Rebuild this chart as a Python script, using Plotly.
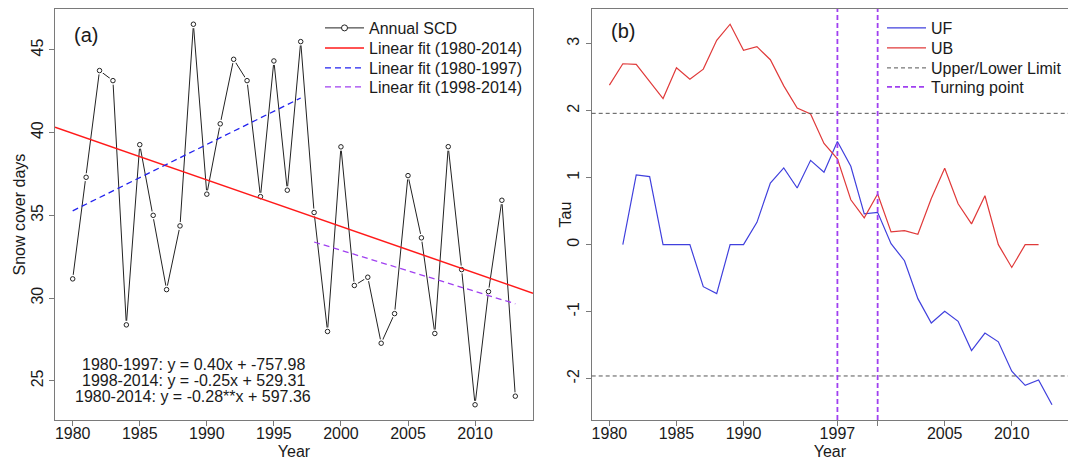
import numpy as np
import plotly.graph_objects as go

# ---------------- data ----------------
years = list(range(1980, 2014))
scd = [31.16, 37.30, 43.75, 43.14, 28.38, 39.27, 35.00, 30.51, 34.36, 46.55,
       36.28, 40.53, 44.43, 43.14, 36.13, 44.33, 36.52, 45.50, 35.17, 27.98,
       39.14, 30.76, 31.26, 27.27, 29.06, 37.40, 33.64, 27.86, 39.15, 31.72,
       23.55, 30.39, 35.91, 24.07]

uf_years = list(range(1981, 2014))
uf = [0.0, 1.04, 1.015, 0.0, 0.0, 0.0, -0.627, -0.731, 0.0, 0.0,
      0.333, 0.92, 1.145, 0.846, 1.258, 1.08, 1.54, 1.17, 0.458, 0.482,
      0.015, -0.24, -0.806, -1.17, -0.995, -1.144, -1.58, -1.32, -1.45, -1.89,
      -2.10, -2.02, -2.39]

ub_years = list(range(1980, 2013))
ub = [2.38, 2.70, 2.69, 2.44, 2.18, 2.64, 2.47, 2.62, 3.05, 3.29,
      2.90, 2.955, 2.76, 2.37, 2.04, 1.95, 1.51, 1.28, 0.67, 0.40,
      0.757, 0.19, 0.21, 0.154, 0.69, 1.14, 0.61, 0.31, 0.73, 0.0,
      -0.34, 0.0, 0.0]

limits = [1.96, -1.96]
turning_points = [1997, 2000]

period_early = (1980, 1997)
period_late = (1998, 2013)

xticks_a = [1980, 1985, 1990, 1995, 2000, 2005, 2010]
yticks_a = [25, 30, 35, 40, 45]
xticks_b = [1980, 1985, 1990, 1997, 2000, 2005, 2010]
xticktext_b = ["1980", "1985", "1990", "1997", "", "2005", "2010"]
yticks_b = [-2, -1, 0, 1, 2, 3]
yticktext_b = ["-2", "-1", "0", "1", "2", "3"]

eq_lines = ["1980-1997: y = 0.40x + -757.98",
            "1998-2014: y = -0.25x + 529.31",
            "1980-2014: y = -0.28**x + 597.36"]

# ---------------- layout helpers ----------------
W, H = 1068, 462
FONT = "Liberation Sans, Arial, sans-serif"
FRAME = "#7a7a7a"
TXT = "#1a1a1a"
FS = 16

def fx(p):
    return p / W

def fy(p):
    return 1 - p / H

def rrange(vals):
    lo, hi = min(vals), max(vals)
    d = 0.04 * (hi - lo)
    return [lo - d, hi + d]

xr_a = rrange(years)
yr_a = rrange(scd)
span = xr_a[1] - xr_a[0]
a_left, a_right = 55, 533
b_left = 591.7
xr_b = [xr_a[0], xr_a[0] + span * (W - b_left) / (a_right - a_left)]
yr_b = rrange(uf + ub)

yrs = np.array(years, dtype=float)
vals = np.array(scd)

def fit(y0, y1):
    m = (yrs >= y0) & (yrs <= y1)
    return np.polyfit(yrs[m], vals[m], 1)

c_full = np.polyfit(yrs, vals, 1)
c_early = fit(*period_early)
c_late = fit(*period_late)

fig = go.Figure()

# ---- panel (a) ----
fig.add_trace(go.Scatter(x=years, y=scd, mode="lines", showlegend=False,
                         line=dict(color="#222222", width=1), hoverinfo="skip",
                         xaxis="x", yaxis="y"))
fig.add_trace(go.Scatter(x=years, y=scd, mode="markers", showlegend=False,
                         marker=dict(symbol="circle", size=8, color="white",
                                     line=dict(width=0)),
                         hoverinfo="skip", xaxis="x", yaxis="y"))
fig.add_trace(go.Scatter(x=years, y=scd, mode="markers", showlegend=False,
                         marker=dict(symbol="circle", size=4.5, color="white",
                                     line=dict(width=1, color="#222222")),
                         xaxis="x", yaxis="y"))
# legend entry for the series
fig.add_trace(go.Scatter(x=[None], y=[None], mode="lines+markers", name="Annual SCD",
                         line=dict(color="#222222", width=1),
                         marker=dict(symbol="circle", size=6, color="white",
                                     line=dict(width=1, color="#222222")),
                         legend="legend", xaxis="x", yaxis="y"))

fx_full = np.array(xr_a)
fig.add_trace(go.Scatter(x=fx_full, y=np.polyval(c_full, fx_full), mode="lines",
                         name="Linear fit (1980-2014)",
                         line=dict(color="#ff1a1a", width=1.5),
                         legend="legend2", xaxis="x", yaxis="y"))
fx_e = np.array(period_early, dtype=float)
fig.add_trace(go.Scatter(x=fx_e, y=np.polyval(c_early, fx_e), mode="lines",
                         name="Linear fit (1980-1997)",
                         line=dict(color="#2222ee", width=1.3, dash="6px,4px"),
                         legend="legend3", xaxis="x", yaxis="y"))
fx_l = np.array(period_late, dtype=float)
fig.add_trace(go.Scatter(x=fx_l, y=np.polyval(c_late, fx_l), mode="lines",
                         name="Linear fit (1998-2014)",
                         line=dict(color="#a040f0", width=1.3, dash="6px,4px"),
                         legend="legend4", xaxis="x", yaxis="y"))

# ---- panel (b) ----
fig.add_trace(go.Scatter(x=uf_years, y=uf, mode="lines", name="UF",
                         line=dict(color="#4040dd", width=1.2),
                         legend="legend5", xaxis="x2", yaxis="y2"))
fig.add_trace(go.Scatter(x=ub_years, y=ub, mode="lines", name="UB",
                         line=dict(color="#e03a3a", width=1.2),
                         legend="legend6", xaxis="x2", yaxis="y2"))

shapes = []
for i, lv in enumerate(limits):
    shapes.append(dict(type="line", xref="x2 domain", yref="y2", x0=0, x1=1,
                       y0=lv, y1=lv, line=dict(color="#555555", width=1, dash="4px,3px"),
                       showlegend=(i == 0), name="Upper/Lower Limit",
                       legend="legend7", layer="above"))
for i, tp in enumerate(turning_points):
    shapes.append(dict(type="line", xref="x2", yref="y2 domain", x0=tp, x1=tp,
                       y0=0, y1=1, line=dict(color="#a040f0", width=1.8, dash="5px,3px"),
                       showlegend=(i == 0), name="Turning point",
                       legend="legend8", layer="above"))

ann = []
for i, t in enumerate(eq_lines):
    ann.append(dict(text=t, xref="paper", yref="paper", x=fx(193), y=fy(364 + 16.3 * i),
                    xanchor="center", yanchor="middle", showarrow=False,
                    font=dict(size=FS, color=TXT, family=FONT)))
ann.append(dict(text="(a)", xref="paper", yref="paper", x=fx(86), y=fy(35),
                xanchor="center", yanchor="middle", showarrow=False,
                font=dict(size=20, color=TXT, family=FONT)))
ann.append(dict(text="(b)", xref="paper", yref="paper", x=fx(623), y=fy(31),
                xanchor="center", yanchor="middle", showarrow=False,
                font=dict(size=20, color=TXT, family=FONT)))
# y-axis titles (rotated, as in the original)
ann.append(dict(text="Snow cover days", xref="paper", yref="paper", x=fx(19), y=fy(214.5),
                xanchor="center", yanchor="middle", showarrow=False, textangle=-90,
                font=dict(size=FS, color=TXT, family=FONT)))
ann.append(dict(text="Tau", xref="paper", yref="paper", x=fx(565), y=fy(214.5),
                xanchor="center", yanchor="middle", showarrow=False, textangle=-90,
                font=dict(size=FS, color=TXT, family=FONT)))

axis_common = dict(showgrid=False, zeroline=False, showline=True, linecolor=FRAME,
                   linewidth=1, ticks="outside", ticklen=5, tickcolor=FRAME, tickwidth=1,
                   automargin=False)

ydom = [fy(420), fy(9)]

def legend_at(x_px, center_px):
    return dict(x=fx(x_px), y=fy(center_px - 18), xanchor="left", yanchor="top",
                bgcolor="rgba(0,0,0,0)", font=dict(size=FS, color=TXT, family=FONT),
                itemwidth=39, itemclick=False, itemdoubleclick=False)

rows = [29, 49, 69, 88]

fig.update_layout(
    width=W, height=H, template="none",
    paper_bgcolor="white", plot_bgcolor="white",
    margin=dict(l=0, r=0, t=0, b=0),
    font=dict(family=FONT, size=FS, color=TXT),
    xaxis=dict(domain=[fx(a_left), fx(a_right)], range=xr_a, tickmode="array",
               tickvals=xticks_a, mirror=True,
               title=dict(text="Year", standoff=4), anchor="y",
               **axis_common),
    yaxis=dict(domain=ydom, range=yr_a, tickmode="array", tickvals=yticks_a,
               tickangle=-90, mirror=True, anchor="x", **axis_common),
    xaxis2=dict(domain=[fx(b_left), 1.0], range=xr_b, tickmode="array",
                tickvals=xticks_b, ticktext=xticktext_b, mirror=True,
                title=dict(text="Year", standoff=4), anchor="y2",
                **axis_common),
    yaxis2=dict(domain=ydom, range=yr_b, tickmode="array", tickvals=yticks_b,
                ticktext=yticktext_b, tickangle=-90, mirror=False,
                anchor="x2", **axis_common),
    legend=legend_at(320, rows[0]),
    legend2=legend_at(320, rows[1]),
    legend3=legend_at(320, rows[2]),
    legend4=legend_at(320, rows[3]),
    legend5=legend_at(882, rows[0]),
    legend6=legend_at(882, rows[1]),
    legend7=legend_at(882, rows[2]),
    legend8=legend_at(882, rows[3]),
    shapes=shapes, annotations=ann, showlegend=True,
)
fig.update_xaxes(tickfont=dict(size=FS, color=TXT, family=FONT), ticklabelstandoff=-6,
                 title_font=dict(size=FS, color=TXT, family=FONT))
fig.update_yaxes(tickfont=dict(size=FS, color=TXT, family=FONT),
                 title_font=dict(size=FS, color=TXT, family=FONT))

fig.write_html("out.html")
